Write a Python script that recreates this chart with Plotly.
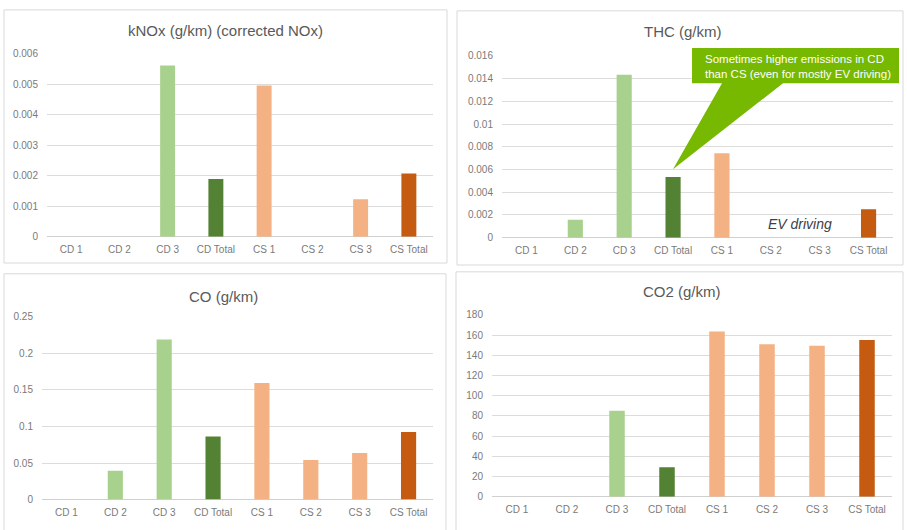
import plotly.graph_objects as go

categories = ["CD 1", "CD 2", "CD 3", "CD Total", "CS 1", "CS 2", "CS 3", "CS Total"]
knox_vals = [0, 0, 0.00562, 0.00189, 0.00496, 0, 0.00123, 0.00207]
thc_vals = [0, 0.00157, 0.01434, 0.00534, 0.00743, 0, 0, 0.00249]
co_vals = [0, 0.0393, 0.219, 0.0862, 0.1594, 0.054, 0.0638, 0.0924]
co2_vals = [0, 0, 85, 29, 163.6, 151, 149.5, 155]
bar_colors = ["#A9D18E", "#A9D18E", "#A9D18E", "#548235",
              "#F4B183", "#F4B183", "#F4B183", "#C55A11"]

W, H = 907, 530
def px(x): return x / W
def py(y): return 1 - y / H

panels = [
    dict(title="kNOx (g/km) (corrected NOx)", vals=knox_vals, rng=[0, 0.006], dtick=0.001,
         x0=47, x1=433, y0=49, y1=236, tx=225, ty=25, box=(4, 4, 447, 263)),
    dict(title="THC (g/km)", vals=thc_vals, rng=[0, 0.016], dtick=0.002,
         x0=502, x1=893, y0=51, y1=237, tx=683, ty=26, box=(457, 5, 903, 265)),
    dict(title="CO (g/km)", vals=co_vals, rng=[0, 0.25], dtick=0.05,
         x0=42, x1=433, y0=318, y1=505, tx=223, ty=297, box=(4, 274, 446, 540)),
    dict(title="CO2 (g/km)", vals=co2_vals, rng=[0, 180], dtick=20,
         x0=492, x1=892, y0=316, y1=502, tx=682, ty=292, box=(456, 272, 903, 540)),
]

fig = go.Figure()
shapes = []
annotations = []
tick_font = dict(family="Liberation Sans", size=10, color="#7A7A7A")
grid_c = "#DCDCDC"

for i, p in enumerate(panels, start=1):
    xa = "x" if i == 1 else f"x{i}"
    ya = "y" if i == 1 else f"y{i}"
    fig.add_trace(go.Bar(x=categories, y=p["vals"], marker=dict(color=bar_colors, line=dict(width=0)),
                         xaxis=xa, yaxis=ya, showlegend=False, hoverinfo="x+y"))
    xkey = "xaxis" if i == 1 else f"xaxis{i}"
    ykey = "yaxis" if i == 1 else f"yaxis{i}"
    fig.layout[xkey] = dict(domain=[px(p["x0"]), px(p["x1"])], anchor=ya, type="category",
                            tickfont=tick_font, showgrid=False, showline=False, zeroline=False,
                            ticks="", ticklabelstandoff=5, fixedrange=True)
    fig.layout[ykey] = dict(domain=[py(p["y1"]), py(p["y0"])], anchor=xa, range=p["rng"],
                            dtick=p["dtick"], tick0=0, tickfont=tick_font, showgrid=True,
                            gridcolor=grid_c, gridwidth=1, zeroline=True, zerolinecolor="#D0D0D0",
                            zerolinewidth=1, showline=False, ticks="", ticklabelstandoff=8,
                            fixedrange=True)
    bx0, by0, bx1, by1 = p["box"]
    shapes.append(dict(type="rect", xref="paper", yref="paper", x0=px(bx0), x1=px(bx1),
                       y0=py(by1), y1=py(by0), line=dict(color="#D9D9D9", width=1),
                       fillcolor="rgba(0,0,0,0)", layer="below"))
    annotations.append(dict(text=p["title"], xref="paper", yref="paper", x=px(p["tx"]),
                            y=py(p["ty"]), xanchor="center", yanchor="middle", showarrow=False,
                            font=dict(family="Liberation Sans", size=15, color="#595959")))

# callout box on THC chart
green = "#77B800"
path = (f"M {px(692)} {py(43)} L {px(899)} {py(43)} L {px(899)} {py(79)} "
        f"L {px(783)} {py(79)} L {px(673)} {py(167)} L {px(722)} {py(79)} "
        f"L {px(692)} {py(79)} Z")
shapes.append(dict(type="path", xref="paper", yref="paper", path=path,
                   fillcolor=green, line=dict(color=green, width=0), layer="above"))
annotations.append(dict(text="Sometimes higher emissions in CD<br>than CS (even for mostly EV driving)",
                        xref="paper", yref="paper", x=px(703), y=py(62), xanchor="left",
                        yanchor="middle", align="left", showarrow=False,
                        font=dict(family="Liberation Sans", size=11.5, color="white")))
annotations.append(dict(text="<i>EV driving</i>", xref="paper", yref="paper", x=px(800), y=py(223),
                        xanchor="center", yanchor="middle", showarrow=False,
                        font=dict(family="Liberation Sans", size=14, color="#404040")))

fig.update_layout(width=W, height=H, margin=dict(l=0, r=0, t=0, b=0),
                  paper_bgcolor="white", plot_bgcolor="white", bargap=0.69,
                  shapes=shapes, annotations=annotations)

fig.write_html("out.html", config={"displayModeBar": False},
               post_script="document.body.style.margin='0';document.body.style.padding='0';"
                           "document.body.style.overflow='hidden';")
